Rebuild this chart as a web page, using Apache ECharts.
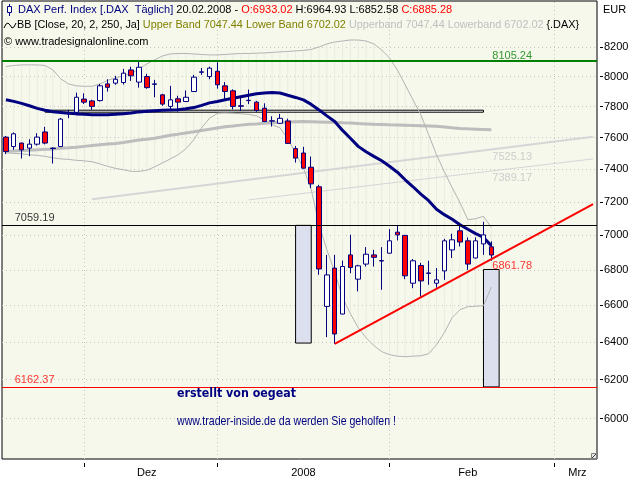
<!DOCTYPE html>
<html>
<head>
<meta charset="utf-8">
<script src="https://cdn.jsdelivr.net/npm/echarts@6.0.0/dist/echarts.min.js"></script>
<style>
html,body{margin:0;padding:0;background:#ffffff;}
#chart{width:640px;height:480px;}
</style>
</head>
<body>
<div id="chart"></div>
<script>
// ---------- data ----------
const dates = [
'2007-11-19','2007-11-20','2007-11-21','2007-11-22','2007-11-23','2007-11-26','2007-11-27','2007-11-28','2007-11-29','2007-11-30',
'2007-12-03','2007-12-04','2007-12-05','2007-12-06','2007-12-07','2007-12-10','2007-12-11','2007-12-12','2007-12-13','2007-12-14',
'2007-12-17','2007-12-18','2007-12-19','2007-12-20','2007-12-21','2007-12-27','2007-12-28',
'2008-01-02','2008-01-03','2008-01-04','2008-01-07','2008-01-08','2008-01-09','2008-01-10','2008-01-11','2008-01-14','2008-01-15',
'2008-01-16','2008-01-17','2008-01-18','2008-01-21','2008-01-22','2008-01-23','2008-01-24','2008-01-25','2008-01-28','2008-01-29',
'2008-01-30','2008-01-31',
'2008-02-01','2008-02-04','2008-02-05','2008-02-06','2008-02-07','2008-02-08','2008-02-11','2008-02-12','2008-02-13','2008-02-14',
'2008-02-15','2008-02-18','2008-02-19','2008-02-20','2008-02-21','2008-02-22','2008-02-25','2008-02-26','2008-02-27','2008-02-28',
'2008-02-29',
'2008-03-03','2008-03-04','2008-03-05','2008-03-06','2008-03-07','2008-03-10'
];
// [open, close, low, high]
const ohlc = [
[7603,7511,7495,7610],[7543,7624,7522,7633],[7565,7522,7467,7568],[7533,7558,7482,7589],[7558,7603,7549,7628],
[7636,7565,7557,7669],[7533,7530,7436,7538],[7543,7719,7540,7726],[7755,7759,7725,7779],[7763,7862,7757,7892],
[7850,7830,7818,7888],[7838,7802,7779,7845],[7840,7938,7834,7951],[7951,7928,7900,7982],[7956,7982,7945,8005],
[7960,8023,7947,8052],[8045,8005,7971,8067],[7963,8063,7926,8105],[8000,7926,7919,8018],[7951,7948,7862,7978],
[7878,7817,7806,7885],[7802,7845,7783,7938],[7852,7830,7768,7872],[7834,7862,7832,7907],[7900,7996,7898,8011],
[8029,8032,8011,8058],[8000,8057,7982,8067],[8036,7945,7919,8097],[7938,7900,7845,7963],[7905,7802,7783,7914],
[7806,7803,7773,7866],[7842,7840,7817,7913],[7830,7775,7766,7838],[7790,7703,7700,7822],[7708,7706,7671,7737],
[7692,7724,7690,7753],[7707,7563,7561,7722],[7530,7470,7442,7546],[7502,7407,7405,7541],[7413,7310,7284,7480],
[7292,6805,6772,7304],[6594,6771,6426,6886],[6810,6443,6390,6886],[6552,6819,6550,6853],[6886,6813,6781,7004],
[6747,6823,6678,6829],[6833,6890,6819,6931],[6886,6872,6819,6915],[6853,6851,6687,6931],[6896,6968,6894,7037],
[7019,7003,6970,7056],[7000,6766,6747,7002],[6724,6852,6696,6862],[6825,6737,6648,6840],[6782,6780,6715,6852],
[6724,6743,6699,6810],[6794,6968,6743,6980],[6915,6974,6868,7010],[7027,6961,6935,7066],[6968,6833,6800,6988],
[6868,6968,6866,6988],[6950,7003,6886,7080],[6933.02,6885.28,6852.58,6964.93]
];
const ma20 = [
7846,7835,7822,7806,7789,7777,7767,7762,7757,7753,
7750,7748,7748,7748,7750,7754,7759,7766,7770,7774,
7776,7778,7780,7786,7794,7809,7825,7834,7846,7855,
7865,7875,7885,7890,7893,7890,7875,7861,7845,7815,
7779,7740,7704,7646,7596,7544,7510,7481,7453,7419,
7382,7335,7292,7247,7207,7155,7123,7096,7063,7036,
7010,6988,6940
];
const ma250 = [
7513,7515,7518,7520,7522,7525,7528,7532,7535,7539,
7544,7549,7554,7559,7563,7568,7576,7584,7590,7596,
7605,7615,7622,7630,7637,7645,7653,7661,7669,7674,
7680,7685,7688,7692,7695,7698,7700,7702,7703,7702,
7701,7699,7698,7695,7693,7690,7688,7685,7684,7682,
7681,7680,7678,7676,7674,7672,7668,7663,7659,7656,
7654,7652,7650
];
const bandUpper = [
8068,8075,8079,8079,8079,8075,8045,7985,7951,7938,
7935,7935,7950,7975,7991,8005,8021,8052,8086,8113,
8140,8154,8157,8157,8154,8150,8147,8147,8150,8154,
8157,8157,8159,8161,8164,8168,8171,8175,8178,8185,
8202,8223,8236,8243,8250,8250,8243,8223,8181,8126,
8045,7945,7845,7747,7618,7491,7385,7287,7195,7093,
7099,7113,7047.44
];
const bandLower = [
7503,7500,7497,7491,7487,7481,7472,7465,7462,7456,
7453,7447,7434,7418,7406,7397,7387,7387,7394,7415,
7440,7465,7491,7529,7586,7663,7724,7757,7759,7757,
7754,7750,7740,7714,7682,7663,7592,7503,7409,7274,
7063,6915,6789,6642,6554,6477,6423,6380,6348,6332,
6324,6321,6324,6326,6337,6385,6450,6532,6576,6592,
6595,6598,6702.02
];
const yTicks = [6000,6200,6400,6600,6800,7000,7200,7400,7600,7800,8000,8200];
const monthStarts = ['2007-12-03','2008-01-02','2008-02-01','2008-03-03'];
const monthLabels = {'2007-12-13':'Dez','2008-01-17':'2008','2008-02-15':'Feb','2008-03-06':'Mrz'};
const levelGreen = 8105.24, levelBlack = 7059.19, levelRed = 6162.37;
const trendPoints = [[42,6390],[75,7187]];
const trendNow = [62,6861.78];
const regUpper = [[11,7216],[75,7606]];
const regUpperNow = [62,7525.13];
const regLower = [[31,7212],[75,7465]];
const regLowerNow = [62,7389.17];
const boxes = [[37,39,7059.19,6394],[61,63,6802,6162.37]];
const zone = [5,61,7777,7764];
const bandNow = {upper:7047.44, lower:6702.02};

// ---------- helpers ----------
const pad = arr => dates.map((d,i) => i < arr.length ? arr[i] : '-');
const twoPoint = pts => dates.map((d,i) => { const p = pts.find(q => q[0] === i); return p ? p[1] : '-'; });
const FONT = 'Liberation Sans, Arial, sans-serif';
const NAVY = '#000080';
const last = ohlc[ohlc.length-1];
const lastDate = dates[ohlc.length-1].split('-').reverse().join('.');
const mctx = document.createElement('canvas').getContext('2d');
const fitScale = (text, font, target) => { mctx.font = font; const w = mctx.measureText(text).width; return w > 0 ? target / w : 1; };

const txtAuthor = 'erstellt von oegeat';
const fontAuthor = 'bold 12px DejaVu Sans, sans-serif';
const txtSite = 'www.trader-inside.de da werden Sie geholfen !';
const fontSite = '13px Liberation Sans, Arial, sans-serif';
const txtBB = 'BB [Close, 20, 2, 250, Ja] Upper Band ' + bandNow.upper.toFixed(2) + ' Lower Band ' + bandNow.lower.toFixed(2) + ' Upperband ' + bandNow.upper.toFixed(2) + ' Lowerband ' + bandNow.lower.toFixed(2) + ' {.DAX}';

const chart = echarts.init(document.getElementById('chart'), null, {renderer:'canvas'});

const option = {
  animation: false,
  backgroundColor: '#ffffff',
  grid: {left: 2, right: 43, top: 1, bottom: 21, show: true, backgroundColor: '#f5f8eb', borderColor: '#000', borderWidth: 1},
  xAxis: {
    type: 'category', data: dates, boundaryGap: true, offset: 4,
    axisLine: {show: false},
    axisTick: {show: true, alignWithLabel: true, length: 4, lineStyle: {color: '#000'},
      interval: (i, v) => monthStarts.indexOf(v) >= 0},
    axisLabel: {interval: (i, v) => monthLabels.hasOwnProperty(v), formatter: v => monthLabels[v] || '',
      color: '#000', fontSize: 11, fontFamily: FONT, margin: 4},
    splitLine: {show: false}
  },
  yAxis: {
    type: 'log', logBase: 10, position: 'right', min: 5800, max: 8525, offset: 3,
    axisLine: {show: false},
    axisTick: {show: true, length: 3, lineStyle: {color: '#000'}, customValues: yTicks},
    axisLabel: {customValues: yTicks, formatter: v => String(Math.round(v)), color: '#000', fontSize: 11, fontFamily: FONT, margin: 4},
    splitLine: {show: true, lineStyle: {color: '#c4c4c4', type: [1,3], width: 1}}
  },
  series: [
    { // faint hatch between the bands
      type: 'custom', z: 1, silent: true,
      data: bandLower.map((v,i) => [i, v, bandUpper[i]]),
      encode: {x: 0, y: [1,2]},
      renderItem: (params, api) => {
        const a = api.coord([api.value(0), api.value(1)]);
        const b = api.coord([api.value(0), api.value(2)]);
        return {type: 'line', shape: {x1: a[0], y1: a[1], x2: b[0], y2: b[1]}, style: {stroke: '#e9ecdf', lineWidth: 1}};
      }
    },
    { // long moving average
      type: 'line', name: 'ma250', z: 3, data: pad(ma250), symbol: 'none',
      lineStyle: {color: '#bdbdbd', width: 3},
      markLine: {z: 1, silent: true, symbol: 'none', label: {show: false},
        lineStyle: {color: '#c4c4c4', type: [1,3], width: 1},
        data: monthStarts.map(d => ({xAxis: d}))},
      markArea: {z: 2, silent: true, data: [
        ...boxes.map(b => [{xAxis: dates[b[0]], yAxis: b[2], itemStyle: {color: '#dcdfee', borderColor: '#000', borderWidth: 1}}, {xAxis: dates[b[1]], yAxis: b[3]}]),
        [{xAxis: dates[zone[0]], yAxis: zone[2], itemStyle: {color: '#ffffff', borderColor: '#000', borderWidth: 1}}, {xAxis: dates[zone[1]], yAxis: zone[3]}]
      ]}
    },
    {type: 'line', z: 3, data: twoPoint(regUpper), connectNulls: true, symbol: 'none', lineStyle: {color: '#d6d6d6', width: 2}},
    {type: 'line', z: 3, data: twoPoint(regLower), connectNulls: true, symbol: 'none', lineStyle: {color: '#d6d6d6', width: 1}},
    {type: 'line', z: 4, data: pad(bandUpper), symbol: 'none', lineStyle: {color: '#b4b4b4', width: 1}},
    {type: 'line', z: 4, data: pad(bandLower), symbol: 'none', lineStyle: {color: '#b4b4b4', width: 1}},
    {type: 'line', z: 5, data: pad(ma20), symbol: 'none', lineStyle: {color: NAVY, width: 3}},
    {
      type: 'candlestick', z: 6, data: pad(ohlc), barWidth: 5,
      itemStyle: {color: '#ffffff', color0: '#ff0000', borderColor: NAVY, borderColor0: NAVY, borderWidth: 1}
    },
    { // support trend line + horizontal levels
      type: 'line', z: 8, data: twoPoint(trendPoints), connectNulls: true, symbol: 'none',
      lineStyle: {color: '#ff0000', width: 2},
      markLine: {z: 7, silent: true, symbol: 'none', label: {show: false}, data: [
        {yAxis: levelGreen, lineStyle: {color: '#008000', width: 2, type: 'solid'}},
        {yAxis: levelBlack, lineStyle: {color: '#000000', width: 1, type: 'solid'}},
        {yAxis: levelRed, lineStyle: {color: '#ff0000', width: 1, type: 'solid'}}
      ]}
    },
    { // value labels
      type: 'scatter', z: 9, symbolSize: 0, silent: true,
      label: {show: true, position: 'right', distance: 1, fontSize: 11, fontFamily: FONT, formatter: p => p.value[1].toFixed(2)},
      data: [
        {value: [trendNow[0], levelGreen], label: {color: '#008000', offset: [0,-5.5]}},
        {value: regUpperNow, label: {color: '#c4c4c4', offset: [0,7.5]}},
        {value: regLowerNow, label: {color: '#c4c4c4', offset: [0,7]}},
        {value: trendNow, label: {color: '#ff0000', offset: [0,6.5]}},
        {value: [1, levelBlack], label: {color: '#000000', offset: [0,-7]}},
        {value: [1, levelRed], label: {color: '#ff0000', offset: [0,-7]}}
      ]
    }
  ],
  graphic: [
    // header icons
    {type: 'line', shape: {x1: 9.5, y1: 4, x2: 9.5, y2: 16}, style: {stroke: NAVY, lineWidth: 1}, z: 20},
    {type: 'rect', shape: {x: 7.5, y: 6.5, width: 4, height: 6}, style: {fill: '#fff', stroke: NAVY, lineWidth: 1}, z: 21},
    {type: 'polyline', shape: {points: [[4,28],[6,24],[8,23],[10,25],[12,28],[14,27],[16,23]]}, style: {stroke: '#000', lineWidth: 1, fill: null}, z: 20},
    {type: 'text', x: 18, y: 9.5, z: 20, style: {
      text: '{n|DAX Perf. Index [.DAX  Täglich]} {k|' + lastDate + ' -} {r|O:' + last[0].toFixed(2) + '} {k|H:' + last[3].toFixed(2) + ' L:' + last[2].toFixed(2) + '} {r|C:' + last[1].toFixed(2) + '}',
      font: '11px ' + FONT, fill: '#000', verticalAlign: 'middle',
      rich: {n: {fill: NAVY, fontSize: 11, fontFamily: FONT}, k: {fill: '#000', fontSize: 11, fontFamily: FONT}, r: {fill: '#ff0000', fontSize: 11, fontFamily: FONT}}
    }},
    {type: 'text', x: 17, y: 25, z: 20, scaleX: Math.min(1, fitScale(txtBB, '11px Liberation Sans', 562)), style: {
      text: '{k|BB [Close, 20, 2, 250, Ja]} {o|Upper Band ' + bandNow.upper.toFixed(2) + ' Lower Band ' + bandNow.lower.toFixed(2) + '} {g|Upperband ' + bandNow.upper.toFixed(2) + ' Lowerband ' + bandNow.lower.toFixed(2) + '} {.DAX}',
      font: '11px ' + FONT, fill: '#000', verticalAlign: 'middle',
      rich: {k: {fill: '#000', fontSize: 11, fontFamily: FONT}, o: {fill: '#808000', fontSize: 11, fontFamily: FONT}, g: {fill: '#c0c0c0', fontSize: 11, fontFamily: FONT}}
    }},
    {type: 'text', x: 4, y: 41.5, z: 20, style: {text: '© www.tradesignalonline.com', font: '11px ' + FONT, fill: '#000', verticalAlign: 'middle'}},
    {type: 'text', x: 603, y: 9.5, z: 20, style: {text: 'EUR', font: '11px ' + FONT, fill: '#000', verticalAlign: 'middle'}},
    // annotations
    {type: 'text', x: 177, y: 394, z: 20, scaleX: fitScale(txtAuthor, fontAuthor, 119), style: {text: txtAuthor, font: fontAuthor, fill: NAVY, verticalAlign: 'middle'}},
    {type: 'text', x: 177, y: 421, z: 20, scaleX: fitScale(txtSite, fontSite, 219), style: {text: txtSite, font: fontSite, fill: NAVY, verticalAlign: 'middle'}},
    // corner grip
    {type: 'rect', shape: {x: 591.5, y: 453.5, width: 5, height: 5}, style: {fill: '#e8e8e8', stroke: '#808080', lineWidth: 1}, z: 20},
    {type: 'line', shape: {x1: 592, y1: 458, x2: 596, y2: 454}, style: {stroke: '#404040', lineWidth: 1}, z: 21}
  ]
};
chart.setOption(option);
</script>
</body>
</html>
